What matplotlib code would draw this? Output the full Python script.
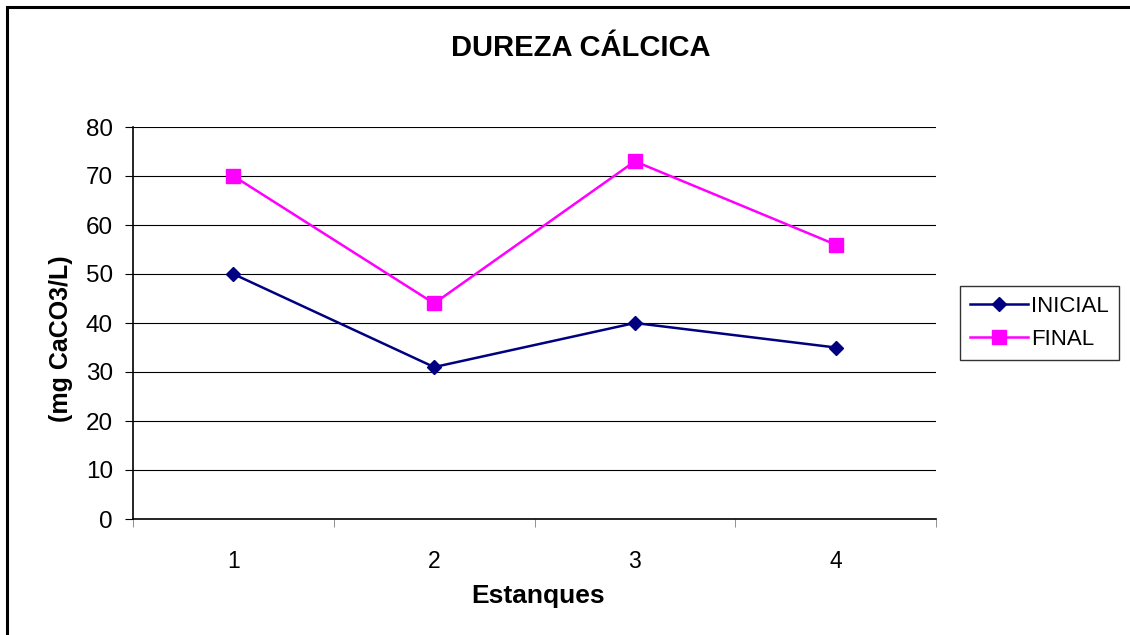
import matplotlib
matplotlib.use("Agg")
import matplotlib.pyplot as plt
from matplotlib.patches import Rectangle

# data
estanques = ["1", "2", "3", "4"]
inicial = [50, 31, 40, 35]
final = [70, 44, 73, 56]
yticks = [0, 10, 20, 30, 40, 50, 60, 70, 80]

plt.rcParams["font.family"] = ["Liberation Sans", "DejaVu Sans"]

fig = plt.figure(figsize=(11.3, 6.35), dpi=100)
ax = fig.add_axes([133 / 1130, 1 - 519 / 635, 803 / 1130, 392 / 635])

x = range(1, len(estanques) + 1)
ax.plot(x, inicial, color="#000080", marker="D", markersize=7, linewidth=1.8, label="INICIAL")
ax.plot(x, final, color="#FF00FF", marker="s", markersize=10, linewidth=1.8, label="FINAL")

ax.set_xlim(0.5, len(estanques) + 0.5)
ax.set_ylim(0, 80)
ax.set_yticks(yticks)
ax.set_xticks(list(x))
ax.set_xticklabels(estanques)
ax.set_xticks([i + 0.5 for i in range(len(estanques) + 1)], minor=True)
ax.tick_params(axis="x", which="major", length=0, pad=22, labelsize=16.5)
ax.tick_params(axis="x", which="minor", length=6, direction="out", color="#808080")
ax.tick_params(axis="y", length=6, direction="out", labelsize=17.5, pad=8.5)
ax.yaxis.grid(True, color="black", linewidth=0.8)
ax.set_axisbelow(True)
for s in ["top", "right"]:
    ax.spines[s].set_visible(False)
for s in ["left", "bottom"]:
    ax.spines[s].set_linewidth(1.2)

fig.text(581 / 1130, 1 - 48 / 635, "DUREZA CÁLCICA", fontsize=21, fontweight="bold",
         ha="center", va="center")
ax.set_xlabel("Estanques", fontsize=19, fontweight="bold")
ax.xaxis.set_label_coords(538 / 1130, 1 - 596 / 635, transform=fig.transFigure)
ax.xaxis.label.set_va("center")
ax.set_ylabel("(mg CaCO3/L)", fontsize=18, fontweight="bold")
ax.yaxis.set_label_coords(61 / 1130, 1 - 339 / 635, transform=fig.transFigure)
ax.yaxis.label.set_va("center")

leg = ax.legend(loc="center left", bbox_to_anchor=(1.03, 0.5), fontsize=16,
                frameon=True, fancybox=False, edgecolor="black", handlelength=2.6,
                borderpad=0.45, labelspacing=0.55, handletextpad=0.15, borderaxespad=0)
leg.get_frame().set_linewidth(1.0)

# outer chart border (only top and left visible)
fig.patches.append(Rectangle((7 / 1130, -0.1), 1.2, 1 - 7 / 635 + 0.1, transform=fig.transFigure,
                             fill=False, edgecolor="black", linewidth=2.2))

fig.savefig("out.png", dpi=100)
